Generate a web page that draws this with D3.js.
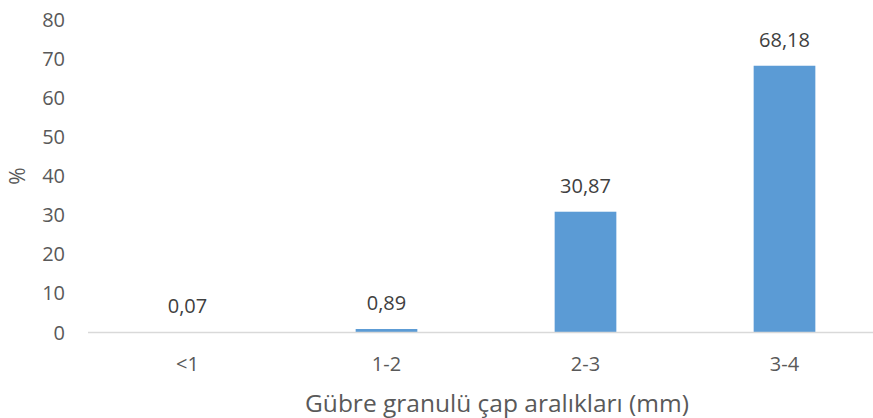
<!DOCTYPE html>
<html>
<head>
<meta charset="utf-8">
<script src="https://cdn.jsdelivr.net/npm/d3@7"></script>
<style>
  html, body { margin: 0; padding: 0; background: #fff; }
  svg { display: block; font-family: "Open Sans", sans-serif; }
</style>
</head>
<body>
<svg id="chart" width="873" height="418"></svg>
<script>
// Granule diameter classes and their share (%)
const categories = ["<1", "1-2", "2-3", "3-4"];
const values = [0.07, 0.89, 30.87, 68.18];
const valueLabels = ["0,07", "0,89", "30,87", "68,18"];
const yTicks = [0, 10, 20, 30, 40, 50, 60, 70, 80];
const xTitle = "Gübre granulü çap aralıkları (mm)";
const yTitle = "%";

const svg = d3.select("#chart");

const x = d3.scaleBand()
  .domain(categories)
  .range([88, 884])
  .paddingInner(0.69)
  .paddingOuter(0.345);

const y = d3.scaleLinear()
  .domain([0, 80])
  .range([332.5, 19.5]);

// y tick labels (no gridlines)
svg.append("g")
  .selectAll("text")
  .data(yTicks)
  .join("text")
  .attr("x", 65)
  .attr("y", d => y(d))
  .attr("dy", "0.35em")
  .attr("text-anchor", "end")
  .attr("fill", "#595959")
  .attr("font-size", 20)
  .text(d => d);

// bars
svg.append("g")
  .selectAll("rect")
  .data(values)
  .join("rect")
  .attr("x", (d, i) => x(categories[i]))
  .attr("width", x.bandwidth())
  .attr("y", d => y(d))
  .attr("height", d => y(0) - y(d))
  .attr("fill", "#5B9BD5");

// category axis line
svg.append("line")
  .attr("x1", 88).attr("x2", 884)
  .attr("y1", y(0)).attr("y2", y(0))
  .attr("stroke", "#d9d9d9")
  .attr("stroke-width", 1.5);

// value labels
svg.append("g")
  .selectAll("text")
  .data(values)
  .join("text")
  .attr("x", (d, i) => x(categories[i]) + x.bandwidth() / 2)
  .attr("y", d => y(d) - 19)
  .attr("text-anchor", "middle")
  .attr("fill", "#404040")
  .attr("font-size", 20)
  .text((d, i) => valueLabels[i]);

// category labels
svg.append("g")
  .selectAll("text")
  .data(categories)
  .join("text")
  .attr("x", d => x(d) + x.bandwidth() / 2)
  .attr("y", 364)
  .attr("dy", "0.35em")
  .attr("text-anchor", "middle")
  .attr("fill", "#595959")
  .attr("font-size", 20)
  .text(d => d);

// axis titles
svg.append("text")
  .attr("x", 497)
  .attr("y", 403)
  .attr("dy", "0.35em")
  .attr("text-anchor", "middle")
  .attr("fill", "#595959")
  .attr("font-size", 24.5)
  .text(xTitle);

svg.append("text")
  .attr("transform", "translate(18,176) rotate(-90)")
  .attr("dy", "0.35em")
  .attr("text-anchor", "middle")
  .attr("fill", "#595959")
  .attr("font-size", 21)
  .text(yTitle);
</script>
</body>
</html>
